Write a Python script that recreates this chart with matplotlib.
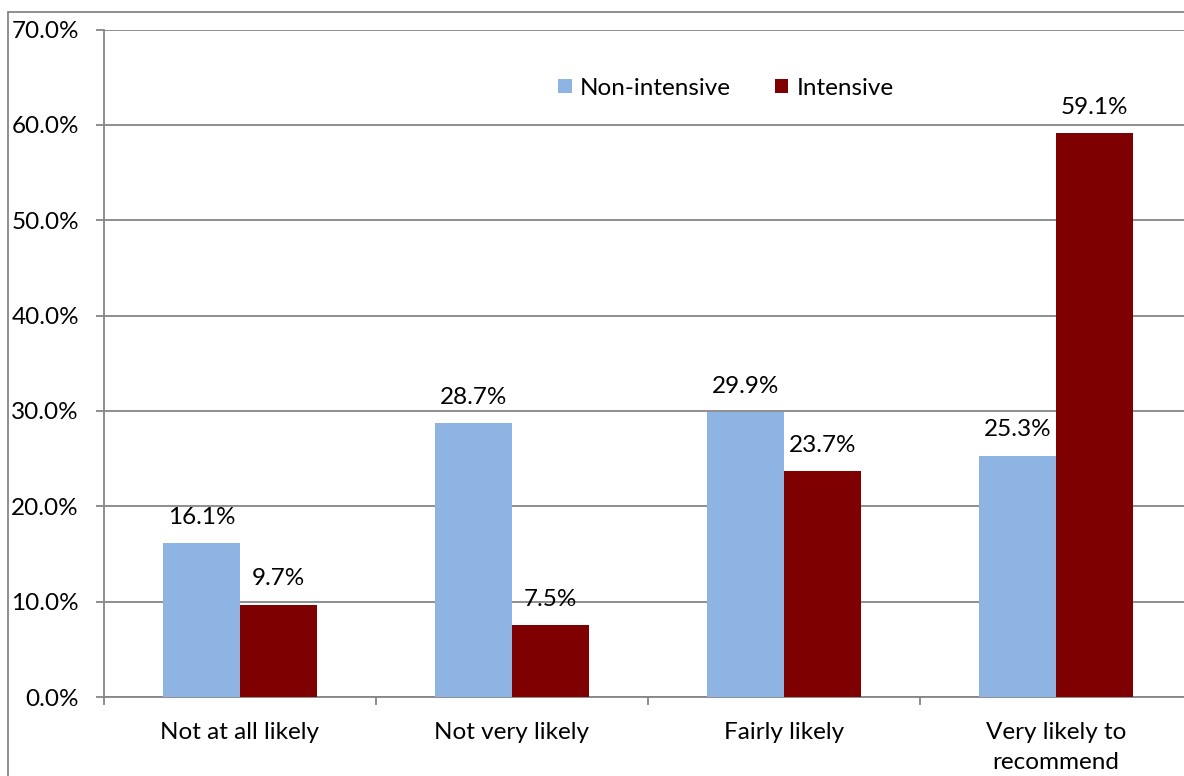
import numpy as np
import matplotlib.pyplot as plt
from matplotlib.patches import Rectangle

categories = ['Not at all likely', 'Not very likely', 'Fairly likely', 'Very likely to\nrecommend']
non_intensive = [16.1, 28.7, 29.9, 25.3]
intensive = [9.7, 7.5, 23.7, 59.1]
yticks = [0, 10, 20, 30, 40, 50, 60, 70]

plt.rcParams['font.family'] = ['Lato', 'DejaVu Sans']
blue = '#8eb4e3'
red = '#7f0000'
grey = '#868686'
fs = 17.5

fig = plt.figure(figsize=(11.84, 7.76), dpi=100)
ax = fig.add_axes([104 / 1184, 1 - 697 / 776, 1088 / 1184, (697 - 29.5) / 776])

x = np.arange(len(categories))
w = 0.284
b1 = ax.bar(x - w / 2, non_intensive, w, color=blue, label='Non-intensive', zorder=3)
b2 = ax.bar(x + w / 2, intensive, w, color=red, label='Intensive', zorder=3)

for bars, vals in [(b1, non_intensive), (b2, intensive)]:
    for r, v in zip(bars, vals):
        ax.annotate(f'{v:.1f}%', (r.get_x() + r.get_width() / 2, v),
                    xytext=(0, 11), textcoords='offset points',
                    ha='center', va='bottom', fontsize=fs)

ax.set_xlim(-0.5, 3.5)
ax.set_ylim(0, 70)
ax.set_yticks(yticks)
ax.set_yticklabels([f'{t:.1f}%' for t in yticks], fontsize=fs)
ax.yaxis.grid(True, color=grey, linewidth=1.3, zorder=0)
ax.set_xticks(x)
ax.set_xticklabels(categories, fontsize=fs, linespacing=1.55)
ax.tick_params(axis='x', length=0, pad=18)
ax.set_xticks(np.arange(-0.5, 3.6, 1), minor=True)
ax.tick_params(axis='x', which='minor', length=6, width=1.3, color=grey)
ax.tick_params(axis='y', length=6, width=1.3, color=grey, pad=12)
for s in ['top', 'right']:
    ax.spines[s].set_visible(False)
for s in ['left', 'bottom']:
    ax.spines[s].set_color(grey)
    ax.spines[s].set_linewidth(1.3)

ax.legend(loc='center left', bbox_to_anchor=(0.4175, 0.912), ncol=2, frameon=False,
          fontsize=fs, handlelength=0.55, handleheight=0.55, handletextpad=0.35,
          columnspacing=1.8, borderaxespad=0, borderpad=0)

fig.patches.append(Rectangle((8 / 1184, -0.1), 1.2, 1.1 - 12 / 776, transform=fig.transFigure,
                             fill=False, edgecolor=grey, linewidth=1.3))

fig.savefig('out.png', dpi=100)
